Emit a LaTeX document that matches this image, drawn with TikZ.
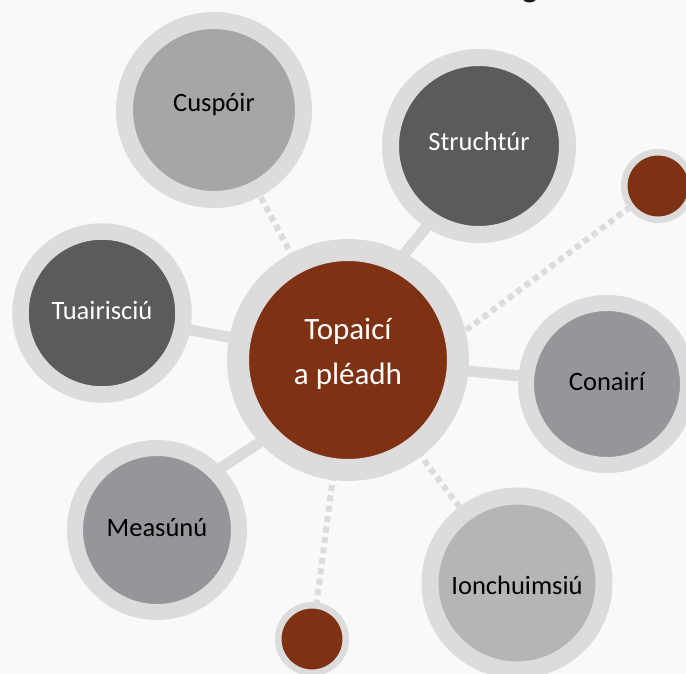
\documentclass[tikz,border=0pt]{standalone}
\usepackage{fontspec}
\setmainfont{Carlito}
\usetikzlibrary{backgrounds}
\definecolor{paper}{HTML}{F8F9F9}
\definecolor{rim}{HTML}{DCDCDC}
\definecolor{rust}{HTML}{7E3113}
\definecolor{charcoal}{HTML}{5B5B5B}
\definecolor{ash}{HTML}{A6A6A6}
\definecolor{slate}{HTML}{95969A}
\definecolor{pale}{HTML}{B5B5B5}
\tikzset{
  bubble/.style={circle, draw=rim, line width=17pt},
  caption/.style={text=black, font=\fontsize{26.5}{30}\selectfont},
  seed/.style={circle, draw=rim, fill=rust, line width=6.5pt, minimum size=67.5pt},
  link/.style={rim, line width=11pt, shorten <=-14pt, shorten >=-14pt},
  dotlink/.style={rim, line width=6pt, dash pattern=on 6pt off 4.5pt},
}
\begin{document}
\begin{tikzpicture}[x=1pt, y=-1pt]
    \useasboundingbox (0,0) rectangle (686,673);
    \node (title) [anchor=base, text=black!90, font=\bfseries\fontsize{32}{36}\selectfont] at (530,-3) {g};
    % centre
    \node (hub) [bubble, fill=rust, line width=22pt, minimum size=220pt,
      label={[caption, text=white, align=center, yshift=6pt, font=\fontsize{31}{45}\selectfont]center:Topaicí\\a pléadh}] at (348,360) {};
    % satellites
    \node (cusp) [bubble, fill=ash, minimum size=179pt,
      label={[caption, yshift=5pt]center:Cuspóir}] at (214,110) {};
    \node (struct) [bubble, fill=charcoal, minimum size=177pt,
      label={[caption, text=white, yshift=5pt]center:Struchtúr}] at (479,146) {};
    \node (tuair) [bubble, fill=charcoal, line width=16.5pt, minimum size=163pt,
      label={[caption, text=white, yshift=3pt]center:Tuairisciú}] at (102,313) {};
    \node (meas) [bubble, fill=slate, line width=16pt, minimum size=164pt,
      label={[caption, yshift=2pt]center:Measúnú}] at (157,530) {};
    \node (conair) [bubble, fill=slate, line width=16pt, minimum size=162pt,
      label={[caption, yshift=3pt]center:Conairí}] at (607,384) {};
    \node (ionch) [bubble, fill=pale, minimum size=174pt,
      label={[caption, yshift=-2pt]center:Ionchuimsiú}] at (517,583) {};
    \node (seedA) [seed] at (658,186) {};
    \node (seedB) [seed] at (312,639) {};
    \begin{scope}[on background layer]
        \fill[paper] (0,0) rectangle (686,673);
        \draw[link] (hub.62) -- (struct.237);
        \draw[link] (hub.center) -- (tuair.center);
        \draw[link] (hub.center) -- (conair.center);
        \draw[link] (hub.223) -- (meas.44);
        \draw[dotlink] (hub.center) -- (cusp.center);
        \draw[dotlink] (hub.center) -- (ionch.center);
        \draw[dotlink] (hub.center) -- (seedB.center);
        \draw[dotlink, shorten <=-20pt] (hub.14) -- (seedA.center);
    \end{scope}
\end{tikzpicture}
\end{document}
